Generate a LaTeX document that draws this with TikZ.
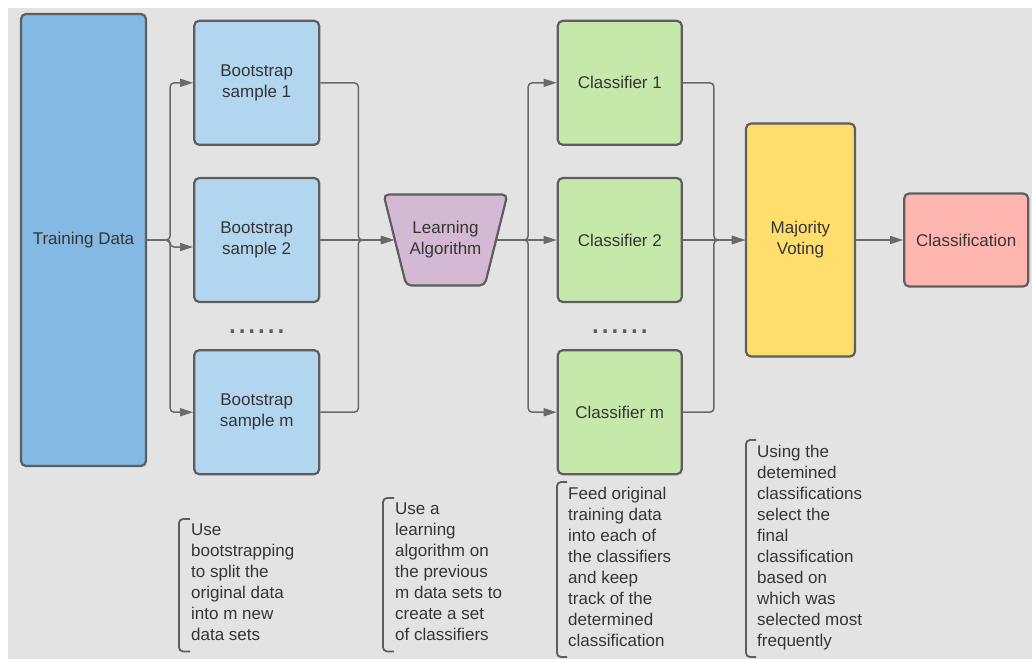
\documentclass[tikz,border=0pt]{standalone}
\usepackage{fontspec}
\setmainfont{Liberation Sans}
\usetikzlibrary{arrows.meta, positioning, shapes.geometric}
\definecolor{bg}{HTML}{E3E3E3}
\definecolor{lineC}{HTML}{5E5E5E}
\definecolor{arrC}{HTML}{6A6A6A}
\definecolor{txt}{HTML}{353535}
\definecolor{tdblue}{HTML}{83B9E3}
\definecolor{bsblue}{HTML}{B3D6F0}
\definecolor{lapurple}{HTML}{D4B9D5}
\definecolor{clgreen}{HTML}{C6E8AB}
\definecolor{mvyellow}{HTML}{FFDE6E}
\definecolor{clpink}{HTML}{FFB6B0}
\tikzstyle{flow}=[x=1pt, y=-1pt, >={Triangle[length=13pt,width=8pt]}, font=\fontsize{17}{21}\selectfont, text=txt]
\tikzstyle{box}=[draw=lineC, line width=2.2pt, rounded corners=5pt, align=center, minimum width=125pt, minimum height=124pt]
\tikzstyle{algo}=[box, trapezium, shape border rotate=180, trapezium angle=76, inner ysep=27pt, minimum width=121pt, minimum height=0pt]
\tikzstyle{conn}=[draw=arrC, line width=1.5pt, rounded corners=4pt]
\tikzstyle{dots}=[inner sep=0pt, text=lineC, font=\fontsize{35}{35}\selectfont]
\tikzstyle{note}=[align=left, inner xsep=0pt, inner ysep=4.5pt, anchor=north west, execute at begin node=\strut, execute at end node=\strut]
\tikzstyle{bracket}=[draw=lineC, line width=1.8pt, rounded corners=4pt]

\begin{document}
\begin{tikzpicture}[flow]
  \useasboundingbox (0,0) rectangle (1032,659);
  \fill[bg] (8,8) rectangle (1032,659);

  \node[box, fill=tdblue, minimum height=452pt] (td) at (83.5,240) {Training Data};
  \node[box, fill=bsblue] (s2) [right=46pt of td] {Bootstrap\\sample 2};
  \node[box, fill=bsblue] (s1) [above=31pt of s2] {Bootstrap\\sample 1};
  \node[box, fill=bsblue] (sm) [below=46pt of s2] {Bootstrap\\sample m};
  \node[dots] (d1) [below=26pt of s2] {......};
  \node[algo, fill=lapurple] (la) [right=73.5pt of s2] {Learning\\Algorithm};
  \node[box, fill=clgreen, minimum width=124pt] (c2) [right=59.5pt of la] {Classifier 2};
  \node[box, fill=clgreen, minimum width=124pt] (c1) [above=31pt of c2] {Classifier 1};
  \node[box, fill=clgreen, minimum width=124pt] (cm) [below=46pt of c2] {Classifier m};
  \node[dots] (d2) [below=26pt of c2] {......};
  \node[box, fill=mvyellow, minimum width=109pt, minimum height=233pt] (mv) [right=62pt of c2] {Majority\\Voting};
  \node[box, fill=clpink, minimum width=124pt, minimum height=93pt] (cl) [right=47pt of mv] {Classification};

  \draw[conn, ->] (td.east) -- ++(23,0) |- (s1);
  \draw[conn, ->] (td.east) -| ([xshift=-23pt,yshift=-7pt]s2.west) -- ([yshift=-7pt]s2.west);
  \draw[conn, ->] (td.east) -- ++(23,0) |- (sm);
  \draw[conn, ->] (s1.east) -| ([xshift=38pt]s2.east) -- (la);
  \draw[conn, ->] (s2.east) -- (la);
  \draw[conn, ->] (sm.east) -| ([xshift=38pt]s2.east) -- (la);
  \draw[conn, ->] (la.east) -- ++(31,0) |- (c1);
  \draw[conn, ->] (la.east) -- (c2);
  \draw[conn, ->] (la.east) -- ++(31,0) |- (cm);
  \draw[conn, ->] (c1.east) -| ([xshift=31pt]c2.east) -- (mv);
  \draw[conn, ->] (c2.east) -- (mv);
  \draw[conn, ->] (cm.east) -| ([xshift=31pt]c2.east) -- (mv);
  \draw[conn, ->] (mv) -- (cl);

  % notes under the columns
  \node[note] (n1) at (191,519) {Use\\bootstrapping\\to split the\\original data\\into m new\\data sets};
  \node[note] (n2) at (395,498) {Use a\\learning\\algorithm on\\the previous\\m data sets to\\create a set\\of classifiers};
  \node[note] (n3) at (568,482) {Feed original\\training data\\into each of\\the classifiers\\and keep\\track of the\\determined\\classification};
  \node[note] (n4) at (757,440) {Using the\\detemined\\classifications\\select the\\final\\classification\\based on\\which was\\selected most\\frequently};
  \draw[bracket] ([xshift=-1pt]n1.north west) -| ([xshift=-12pt]n1.south west) -- ([xshift=-1pt]n1.south west);
  \draw[bracket] ([xshift=-1pt]n2.north west) -| ([xshift=-12pt]n2.south west) -- ([xshift=-1pt]n2.south west);
  \draw[bracket] ([xshift=-1pt]n3.north west) -| ([xshift=-11pt]n3.south west) -- ([xshift=-1pt]n3.south west);
  \draw[bracket] ([xshift=-1pt]n4.north west) -| ([xshift=-11pt]n4.south west) -- ([xshift=-1pt]n4.south west);
\end{tikzpicture}
\end{document}
